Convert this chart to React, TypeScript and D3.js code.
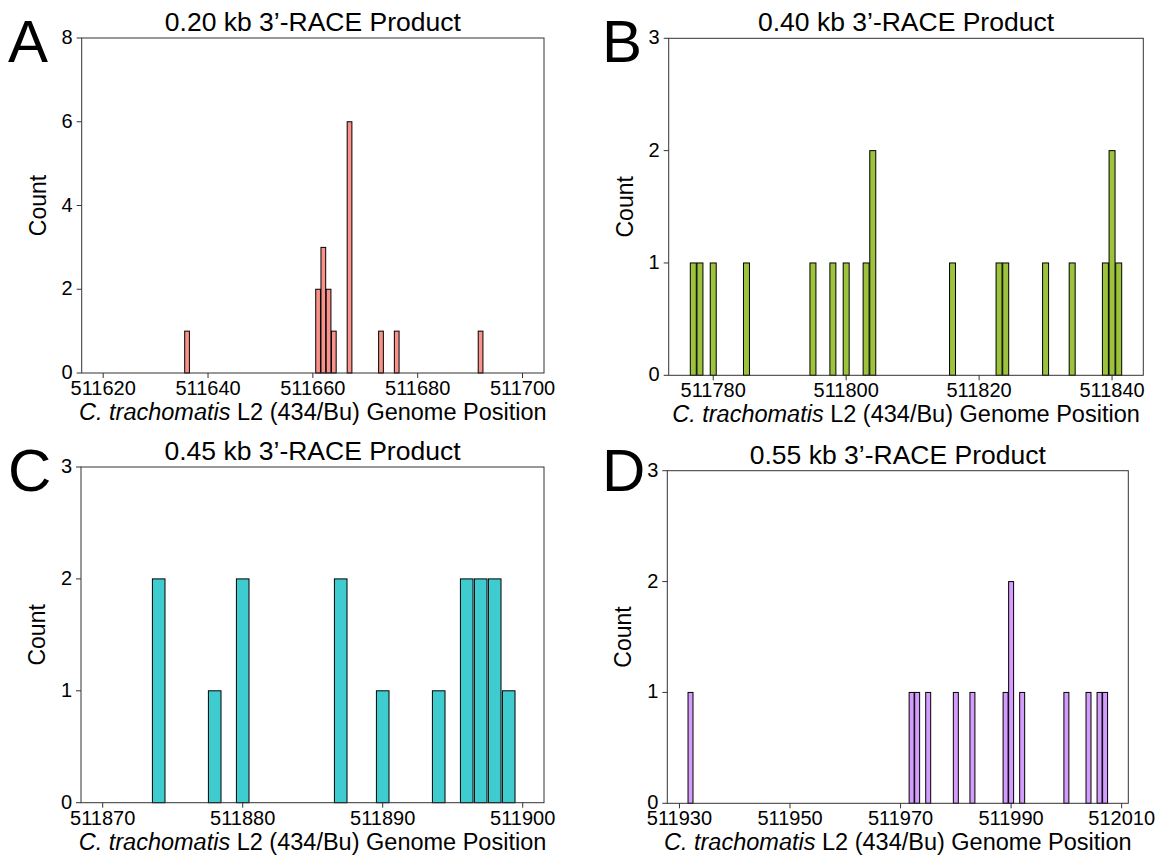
import React from "react";
import * as d3 from "d3";

// ---- Data (genome positions and counts) ----
const titlesAll = ["0.20 kb 3\u2019-RACE Product", "0.40 kb 3\u2019-RACE Product", "0.45 kb 3\u2019-RACE Product", "0.55 kb 3\u2019-RACE Product"];
const letters = ["A", "B", "C", "D"];

const posA = [511636, 511661, 511662, 511663, 511664, 511667, 511673, 511676, 511692];
const countA = [1, 2, 3, 2, 1, 6, 1, 1, 1];
const ticksXA = [511620, 511640, 511660, 511680, 511700];
const ticksYA = [0, 2, 4, 6, 8];

const posB = [511777, 511778, 511780, 511785, 511795, 511798, 511800, 511803, 511804, 511816, 511823, 511824, 511830, 511834, 511839, 511840, 511841];
const countB = [1, 1, 1, 1, 1, 1, 1, 1, 2, 1, 1, 1, 1, 1, 1, 2, 1];
const ticksXB = [511780, 511800, 511820, 511840];
const ticksYB = [0, 1, 2, 3];

const posC = [511874, 511878, 511880, 511887, 511890, 511894, 511896, 511897, 511898, 511899];
const countC = [2, 1, 2, 2, 1, 1, 2, 2, 2, 1];
const ticksXC = [511870, 511880, 511890, 511900];
const ticksYC = [0, 1, 2, 3];

const posD = [511932, 511972, 511973, 511975, 511980, 511983, 511989, 511990, 511992, 512000, 512004, 512006, 512007];
const countD = [1, 1, 1, 1, 1, 1, 1, 2, 1, 1, 1, 1, 1];
const ticksXD = [511930, 511950, 511970, 511990, 512010];
const ticksYD = [0, 1, 2, 3];

const binWidth = 0.9;

// ---- Layout / style (not data) ----
const FONT = "'Liberation Sans', Arial, Helvetica, sans-serif";
const panels = [
  { pos: posA, count: countA, tx: ticksXA, ty: ticksYA, xd: [511615.9, 511704.1], yd: [0, 8], x0: 81.7, x1: 544, y0: 373, y1: 38, fill: "#F9928A", lx: 8, ly: 62 },
  { pos: posB, count: countB, tx: ticksXB, ty: ticksYB, xd: [511773.3, 511844.7], yd: [0, 3], x0: 668.7, x1: 1143.3, y0: 375.3, y1: 38.3, fill: "#9CC33B", lx: 602, ly: 62 },
  { pos: posC, count: countC, tx: ticksXC, ty: ticksYC, xd: [511868.45, 511901.52], yd: [0, 3], x0: 81, x1: 544, y0: 802.7, y1: 467, fill: "#3FCCD0", lx: 8, ly: 491 },
  { pos: posD, count: countD, tx: ticksXD, ty: ticksYD, xd: [511927.8, 512011.2], yd: [0, 3], x0: 667.3, x1: 1128.3, y0: 803.3, y1: 470.7, fill: "#D49CFC", lx: 602, ly: 491 },
];

function Panel({ p, title, letter }: any) {
  const x = d3.scaleLinear().domain(p.xd).range([p.x0, p.x1]);
  const y = d3.scaleLinear().domain(p.yd).range([p.y0, p.y1]);
  const cx = (p.x0 + p.x1) / 2;
  const cy = (p.y0 + p.y1) / 2;
  const axisColor = "#333";
  return (
    <g>
      <text x={p.lx} y={p.ly} fontSize={60} fontFamily={FONT} fill="#000">{letter}</text>
      <text x={cx} y={p.y1 - 7} fontSize={26.5} fontFamily={FONT} textAnchor="middle" fill="#000">{title}</text>
      {p.pos.map((v: number, i: number) => (
        <rect
          key={i}
          x={x(v - binWidth / 2)}
          y={y(p.count[i])}
          width={x(v + binWidth / 2) - x(v - binWidth / 2)}
          height={y(0) - y(p.count[i])}
          fill={p.fill}
          stroke="#000"
          strokeWidth={1}
        />
      ))}
      <rect x={p.x0} y={p.y1} width={p.x1 - p.x0} height={p.y0 - p.y1} fill="none" stroke={axisColor} strokeWidth={1} />
      {p.tx.map((t: number) => (
        <g key={"x" + t}>
          <line x1={x(t)} x2={x(t)} y1={p.y0} y2={p.y0 + 5} stroke={axisColor} />
          <text x={x(t)} y={p.y0 + 22} fontSize={20} fontFamily={FONT} textAnchor="middle" fill="#000">{t}</text>
        </g>
      ))}
      {p.ty.map((t: number) => (
        <g key={"y" + t}>
          <line x1={p.x0 - 5} x2={p.x0} y1={y(t)} y2={y(t)} stroke={axisColor} />
          <text x={p.x0 - 9} y={y(t) + 6} fontSize={20} fontFamily={FONT} textAnchor="end" fill="#000">{t}</text>
        </g>
      ))}
      <text x={cx} y={p.y0 + 47} fontSize={23.5} fontFamily={FONT} textAnchor="middle" fill="#000">
        <tspan fontStyle="italic">C. trachomatis</tspan>
        <tspan> L2 (434/Bu) Genome Position</tspan>
      </text>
      <text transform={`translate(${p.x0 - 36},${cy}) rotate(-90)`} fontSize={23} fontFamily={FONT} textAnchor="middle" fill="#000">Count</text>
    </g>
  );
}

export default function App() {
  return (
    <svg width={1165} height={860} style={{ position: "absolute", left: 0, top: 0, background: "#fff" }}>
      <rect width={1165} height={860} fill="#fff" />
      {panels.map((p, i) => (
        <Panel key={i} p={p} title={titlesAll[i]} letter={letters[i]} />
      ))}
    </svg>
  );
}
